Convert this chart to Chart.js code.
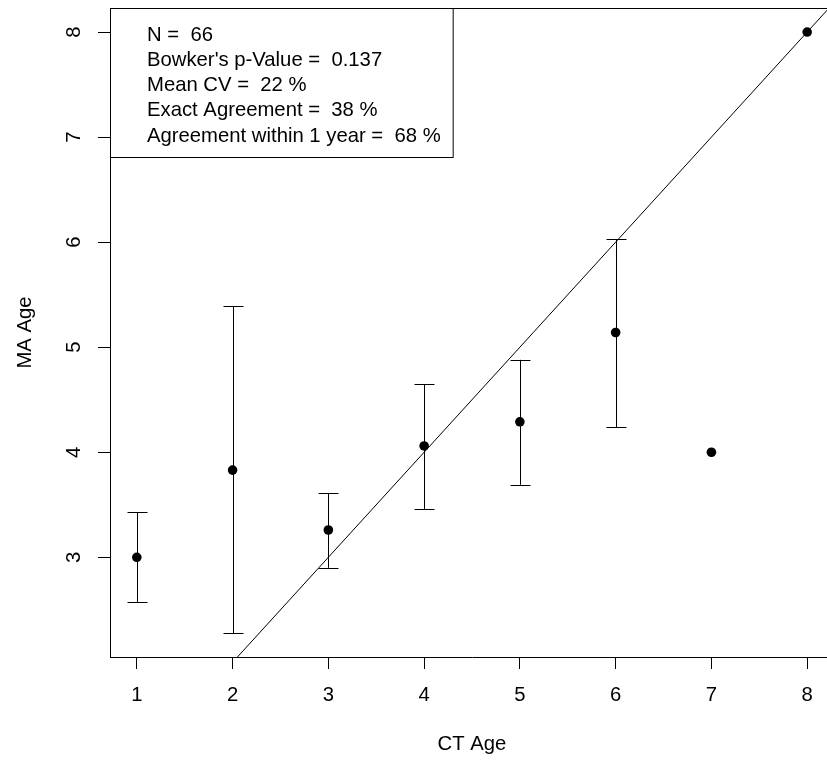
<!DOCTYPE html>
<html>
<head>
<meta charset="utf-8">
<script src="https://cdn.jsdelivr.net/npm/chart.js@4.4.1/dist/chart.umd.min.js"></script>
<style>
body { margin: 0; background: #fff; overflow: hidden; }
#wrap { width: 827px; height: 761px; overflow: hidden; }
</style>
</head>
<body>
<div id="wrap"><canvas id="ageBias" width="860" height="761"></canvas></div>
<script>
// CT age vs mean MA age, with 95% CI bars
var ctAge = [1, 2, 3, 4, 5, 6, 7, 8];
var maAge = [3.00, 3.83, 3.26, 4.06, 4.29, 5.14, 4.00, 8.00];
var maLow = [2.57, 2.28, 2.90, 3.46, 3.69, 4.24, null, null];
var maHigh = [3.43, 5.39, 3.61, 4.65, 4.88, 6.03, null, null];

var xTicks = [1, 2, 3, 4, 5, 6, 7, 8];
var yTicks = [3, 4, 5, 6, 7, 8];

var statsText = [
    'N =  66',
    "Bowker's p-Value =  0.137",
    'Mean CV =  22 %',
    'Exact Agreement =  38 %',
    'Agreement within 1 year =  68 %'
];

var fonte = '20.3px "Liberation Sans", Arial, sans-serif';
var xMin = 0.72, xMax = 8.28;
var yMin = 2.051, yMax = 8.229;

var puntos = ctAge.map((v, i) => ({ x: v, y: maAge[i] }));
var identidade = [{ x: xMin, y: xMin }, { x: xMax, y: xMax }];

var extras = {
    id: 'extras',
    beforeDatasetsDraw(chart) {
        var ctx = chart.ctx;
        var sx = chart.scales.x, sy = chart.scales.y;
        ctx.save();
        ctx.strokeStyle = '#000';
        ctx.lineWidth = 1;
        for (var i = 0; i < ctAge.length; i++) {
            if (maLow[i] == null) continue;
            var px = Math.round(sx.getPixelForValue(ctAge[i])) + 0.5;
            var lo = sy.getPixelForValue(maLow[i]);
            var hi = sy.getPixelForValue(maHigh[i]);
            ctx.beginPath();
            ctx.moveTo(px, lo); ctx.lineTo(px, hi);
            ctx.moveTo(px - 10, Math.round(lo) + 0.5); ctx.lineTo(px + 10, Math.round(lo) + 0.5);
            ctx.moveTo(px - 10, Math.round(hi) + 0.5); ctx.lineTo(px + 10, Math.round(hi) + 0.5);
            ctx.stroke();
        }
        ctx.restore();
    },
    afterDraw(chart) {
        var ctx = chart.ctx;
        var area = chart.chartArea;
        var sy = chart.scales.y;
        ctx.save();
        ctx.strokeStyle = '#000';
        ctx.lineWidth = 1;
        // top frame line
        ctx.beginPath();
        ctx.moveTo(area.left, Math.round(area.top) + 0.5);
        ctx.lineTo(area.right, Math.round(area.top) + 0.5);
        ctx.stroke();

        // stats box
        ctx.font = fonte;
        ctx.fillStyle = '#000';
        var larg = 0;
        statsText.forEach(t => { larg = Math.max(larg, ctx.measureText(t).width); });
        var bx = Math.round(area.left) + 0.5, by = Math.round(area.top) + 0.5;
        ctx.fillStyle = '#fff';
        ctx.fillRect(bx, by, 37 + larg + 12, 149);
        ctx.strokeRect(bx, by, 37 + larg + 12, 149);
        ctx.fillStyle = '#000';
        ctx.textAlign = 'left';
        ctx.textBaseline = 'middle';
        statsText.forEach((t, i) => {
            ctx.fillText(t, area.left + 37, area.top + 27 + i * 25.3);
        });

        // rotated y tick labels
        ctx.textAlign = 'center';
        yTicks.forEach(v => {
            ctx.save();
            ctx.translate(74, sy.getPixelForValue(v));
            ctx.rotate(-Math.PI / 2);
            ctx.fillText(String(v), 0, 0);
            ctx.restore();
        });

        // axis titles
        ctx.fillText('CT Age', (area.left + area.right) / 2, 744);
        ctx.save();
        ctx.translate(25, (area.top + area.bottom) / 2);
        ctx.rotate(-Math.PI / 2);
        ctx.fillText('MA Age', 0, 0);
        ctx.restore();
        ctx.restore();
    }
};

var grafico = new Chart(document.getElementById('ageBias').getContext('2d'), {
    type: 'scatter',
    data: {
        datasets: [{
            type: 'line',
            data: identidade,
            borderColor: '#000',
            borderWidth: 1,
            pointRadius: 0,
            fill: false,
            clip: 0
        }, {
            data: puntos,
            backgroundColor: '#000',
            borderColor: '#000',
            borderWidth: 0,
            pointRadius: 4.8,
            pointHoverRadius: 4.8
        }]
    },
    options: {
        responsive: false,
        animation: false,
        events: [],
        layout: { padding: { top: 8, right: 26, bottom: 0, left: 0 } },
        plugins: {
            legend: { display: false },
            tooltip: { enabled: false }
        },
        scales: {
            x: {
                type: 'linear',
                min: xMin,
                max: xMax,
                afterBuildTicks: s => { s.ticks = xTicks.map(v => ({ value: v })); },
                afterFit: s => { s.height = 104; },
                grid: { drawOnChartArea: false, color: '#000', tickColor: '#000', tickLength: 12 },
                border: { color: '#000', width: 1 },
                ticks: {
                    color: '#000',
                    font: { family: '"Liberation Sans", Arial, sans-serif', size: 20.3 },
                    padding: 14,
                    maxRotation: 0,
                    autoSkip: false
                }
            },
            y: {
                type: 'linear',
                min: yMin,
                max: yMax,
                afterBuildTicks: s => { s.ticks = yTicks.map(v => ({ value: v })); },
                afterFit: s => { s.width = 110; },
                grid: { drawOnChartArea: false, color: '#000', tickColor: '#000', tickLength: 12 },
                border: { color: '#000', width: 1 },
                ticks: { display: false }
            }
        }
    },
    plugins: [extras]
});
</script>
</body>
</html>
